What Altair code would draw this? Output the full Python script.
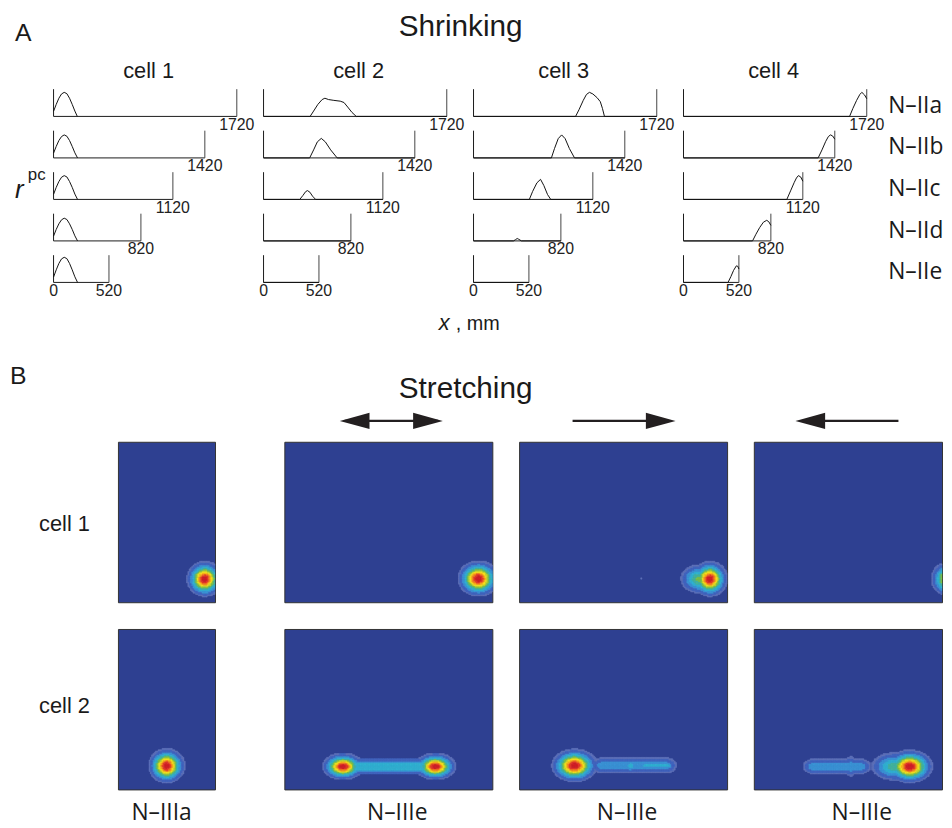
import altair as alt
import numpy as np
import pandas as pd

# ---------------- Part A data (rate maps on shrinking linear tracks) ----------------
track_lengths = [1720, 1420, 1120, 820, 520]
sessions_A = ["N–IIa", "N–IIb", "N–IIc", "N–IId", "N–IIe"]
cells_A = ["cell 1", "cell 2", "cell 3", "cell 4"]

# cell 1
c1_a_x = [0, 25, 50, 75, 100, 125, 150, 175, 200, 223]
c1_a_y = [0.19, 0.45, 0.68, 0.84, 0.90, 0.85, 0.68, 0.45, 0.20, 0.0]
c1_b_x = [0, 25, 50, 75, 100, 125, 150, 175, 200, 225]
c1_b_y = [0.18, 0.43, 0.65, 0.80, 0.86, 0.81, 0.65, 0.43, 0.19, 0.0]
c1_c_x = [0, 25, 50, 75, 100, 125, 150, 175, 200, 225]
c1_c_y = [0.19, 0.45, 0.67, 0.83, 0.89, 0.84, 0.67, 0.45, 0.20, 0.0]
c1_d_x = [0, 25, 50, 75, 100, 125, 150, 175, 200, 225]
c1_d_y = [0.18, 0.43, 0.64, 0.79, 0.85, 0.80, 0.64, 0.43, 0.19, 0.0]
c1_e_x = [0, 25, 50, 75, 100, 125, 150, 175, 200, 225]
c1_e_y = [0.20, 0.47, 0.71, 0.88, 0.94, 0.89, 0.71, 0.47, 0.21, 0.0]
# cell 2
c2_a_x = [0, 437, 470, 510, 550, 576, 610, 660, 720, 755, 790, 830, 870, 1720]
c2_a_y = [0, 0.0, 0.20, 0.45, 0.63, 0.68, 0.63, 0.60, 0.57, 0.52, 0.35, 0.15, 0.0, 0]
c2_b_x = [0, 433, 470, 505, 542, 580, 630, 691, 1420]
c2_b_y = [0, 0.0, 0.30, 0.60, 0.73, 0.60, 0.30, 0.0, 0]
c2_c_x = [0, 340, 370, 395, 412, 435, 460, 489, 1120]
c2_c_y = [0, 0.0, 0.15, 0.29, 0.33, 0.27, 0.12, 0.0, 0]
c2_d_x = [0, 820]
c2_d_y = [0, 0]
c2_e_x = [0, 520]
c2_e_y = [0, 0]
# cell 3
c3_a_x = [0, 958, 990, 1030, 1060, 1088, 1120, 1160, 1190, 1210, 1229, 1720]
c3_a_y = [0, 0.0, 0.25, 0.60, 0.82, 0.90, 0.84, 0.70, 0.55, 0.30, 0.0, 0]
c3_b_x = [0, 731, 760, 795, 827, 860, 900, 948, 1420]
c3_b_y = [0, 0.0, 0.35, 0.72, 0.86, 0.72, 0.35, 0.0, 0]
c3_c_x = [0, 524, 555, 595, 629, 660, 695, 725, 1120]
c3_c_y = [0, 0.0, 0.30, 0.62, 0.75, 0.52, 0.18, 0.0, 0]
c3_d_x = [0, 375, 395, 410, 425, 450, 820]
c3_d_y = [0, 0.0, 0.05, 0.09, 0.06, 0.0, 0]
c3_e_x = [0, 520]
c3_e_y = [0, 0]
# cell 4
c4_a_x = [0, 1559, 1590, 1625, 1655, 1674, 1700, 1720]
c4_a_y = [0, 0.0, 0.30, 0.60, 0.82, 0.90, 0.80, 0.66]
c4_b_x = [0, 1264, 1300, 1335, 1360, 1380, 1400, 1420]
c4_b_y = [0, 0.0, 0.30, 0.62, 0.80, 0.86, 0.82, 0.70]
c4_c_x = [0, 970, 1005, 1040, 1060, 1078, 1100, 1120]
c4_c_y = [0, 0.0, 0.32, 0.64, 0.80, 0.89, 0.84, 0.68]
c4_d_x = [0, 648, 680, 715, 750, 781, 800, 820]
c4_d_y = [0, 0.0, 0.25, 0.50, 0.70, 0.77, 0.72, 0.58]
c4_e_x = [0, 418, 445, 470, 496, 510, 520]
c4_e_y = [0, 0.0, 0.22, 0.45, 0.62, 0.60, 0.50]

curves = [
    [(c1_a_x, c1_a_y), (c1_b_x, c1_b_y), (c1_c_x, c1_c_y), (c1_d_x, c1_d_y), (c1_e_x, c1_e_y)],
    [(c2_a_x, c2_a_y), (c2_b_x, c2_b_y), (c2_c_x, c2_c_y), (c2_d_x, c2_d_y), (c2_e_x, c2_e_y)],
    [(c3_a_x, c3_a_y), (c3_b_x, c3_b_y), (c3_c_x, c3_c_y), (c3_d_x, c3_d_y), (c3_e_x, c3_e_y)],
    [(c4_a_x, c4_a_y), (c4_b_x, c4_b_y), (c4_c_x, c4_c_y), (c4_d_x, c4_d_y), (c4_e_x, c4_e_y)],
]

# ---------------- Part B data (2-D place fields, stretching arena) ----------------
cells_B = ["cell 1", "cell 2"]
sessions_B = ["N–IIIa", "N–IIIe", "N–IIIe", "N–IIIe"]
arena_x_cm = [60, 130, 130, 117.6]   # visible extent of each arena
arena_y_cm = 100
# field components: row, column, x-start, x-end, y, x-spread, y-spread, peak
blob_row = [1, 1, 1, 1, 1, 1, 2, 2, 2, 2, 2, 2, 2, 2, 2, 2, 2, 2]
blob_col = [1, 2, 3, 3, 3, 4, 1, 2, 2, 2, 3, 3, 3, 3, 4, 4, 4, 4]
blob_xa = [53.7, 121.4, 119.3, 112.5, 76.6, 123.0, 30.2, 36.7, 94.5, 45.0, 34.7, 52.0, 69.8, 79.0, 97.5, 88.0, 37.0, 60.5]
blob_xb = [53.7, 121.4, 119.3, 112.5, 76.6, 123.0, 30.2, 36.7, 94.5, 86.0, 34.7, 92.0, 69.8, 93.0, 97.5, 88.0, 67.0, 60.5]
blob_cy = [14.6, 14.8, 14.6, 14.6, 14.6, 14.6, 14.8, 14.4, 14.4, 14.4, 15.0, 15.0, 15.0, 15.0, 14.4, 14.4, 14.4, 14.4]
blob_sx = [4.2, 4.9, 4.2, 5.0, 0.5, 4.6, 4.3, 4.9, 4.9, 3.0, 5.45, 3.5, 2.2, 1.8, 5.45, 6.5, 3.3, 2.2]
blob_sy = [4.2, 4.2, 4.2, 3.9, 0.5, 4.2, 4.1, 3.15, 3.15, 2.4, 3.9, 2.6, 2.2, 1.4, 3.9, 3.9, 2.5, 3.3]
blob_amp = [1.0, 1.0, 1.0, 0.40, 0.05, 1.0, 1.0, 1.0, 1.0, 0.27, 1.0, 0.16, 0.24, 0.24, 1.0, 0.35, 0.16, 0.17]

level_bounds = [0.03, 0.05, 0.11, 0.19, 0.28, 0.37, 0.46, 0.55, 0.64, 0.73, 0.82, 0.92]
level_colors = ["#6073BA", "#4467C0", "#3D95D6", "#34B3D3", "#45B6A0", "#7DC24A",
                "#C5D92E", "#FCE51B", "#FBB51A", "#F47C20", "#E63A29", "#D42127"]
BG_BLUE = "#2E4091"
STEP = 0.8


def field_cells(r, c):
    xmax = arena_x_cm[c - 1]
    xe = np.arange(0, xmax, STEP)
    x1 = np.minimum(xe + STEP, xmax)
    ye = np.arange(0, arena_y_cm, STEP)
    y1 = np.minimum(ye + STEP, arena_y_cm)
    X0, Y0 = np.meshgrid(xe, ye)
    X1, Y1 = np.meshgrid(x1, y1)
    XC, YC = (X0 + X1) / 2, (Y0 + Y1) / 2
    F = np.zeros_like(XC)
    for i in range(len(blob_row)):
        if blob_row[i] == r and blob_col[i] == c:
            dx = np.maximum(0, np.maximum(blob_xa[i] - XC, XC - blob_xb[i]))
            dy = YC - blob_cy[i]
            g = blob_amp[i] * np.exp(-(dx ** 2 / (2 * blob_sx[i] ** 2) + dy ** 2 / (2 * blob_sy[i] ** 2)))
            F = np.maximum(F, g)
    lvl = np.searchsorted(np.array(level_bounds), F, side="right") - 1
    m = lvl >= 0
    return pd.DataFrame({
        "x0": np.round(X0[m], 2), "x1": np.round(X1[m], 2),
        "y0": np.round(Y0[m], 2), "y1": np.round(Y1[m], 2),
        "lvl": lvl[m].astype(int),
    })


# ---------------- helpers ----------------
_dummy = pd.DataFrame({"k": [0]})
SANS = "Liberation Sans"
LABEL_FONT = "Open Sans"
INK = "#1a1a1a"


def label(text, x, y, size, font=SANS, align="left", style="normal", color=INK):
    return alt.Chart(_dummy).mark_text(
        text=text, font=font, fontSize=size, fontStyle=style, align=align,
        baseline="alphabetic", color=color
    ).encode(x=alt.value(x), y=alt.value(y))


def blank(w, h):
    return alt.Chart(_dummy).mark_text(text=" ", fontSize=1).encode(
        x=alt.value(0), y=alt.value(0)).properties(width=w, height=h)


SHIFT = 3.0   # the page draws the chart a few pixels lower than its own origin

# ---------------- Part A panels ----------------
PITCH = 211.67          # px between the starts of neighbouring columns
PRE = 6.0               # px of room left of each track start
MM_PER_PX = 1720 / 185
XDOM = [-PRE * MM_PER_PX, (PITCH - PRE) * MM_PER_PX]
PANEL_H = 27.5
ROW_SPACING = 13.9
LAST_EXTRA = 17.0
ROW_LABEL_Y = [23.7, 23.6, 24.2, 24.8, 24.4]


def panel_A(ci, ri):
    L = track_lengths[ri]
    ymax = PANEL_H / 27.0
    extra = LAST_EXTRA if ri == 4 else 0.0
    ymin = -extra / 27.0
    xs = alt.Scale(domain=XDOM, nice=False, zero=False)
    ys = alt.Scale(domain=[ymin, ymax], nice=False, zero=False)
    cx, cy = curves[ci][ri]
    curve = alt.Chart(pd.DataFrame({"x": cx, "y": cy})).mark_line(
        color="#111111", strokeWidth=1).encode(
        x=alt.X("x:Q", scale=xs, axis=None), y=alt.Y("y:Q", scale=ys, axis=None))
    frame = alt.Chart(pd.DataFrame({"x0": [0, 0], "x1": [L, 0], "y0": [0, 0], "y1": [0, ymax]})).mark_rule(
        color=INK, strokeWidth=1).encode(
        x=alt.X("x0:Q", scale=xs, axis=None), x2="x1:Q",
        y=alt.Y("y0:Q", scale=ys, axis=None), y2="y1:Q")
    end = alt.Chart(pd.DataFrame({"x0": [L], "y0": [0], "y1": [ymax]})).mark_rule(
        color="#444444", strokeWidth=1).encode(
        x=alt.X("x0:Q", scale=xs, axis=None), y=alt.Y("y0:Q", scale=ys, axis=None), y2="y1:Q")
    tick_vals = [0, L] if ri == 4 else [L]
    ticks = alt.Chart(pd.DataFrame({"x": tick_vals, "y": [0] * len(tick_vals),
                                    "t": [str(v) for v in tick_vals]})).mark_text(
        font=SANS, fontSize=16, color="#222222", baseline="top", align="center", dy=0.5).encode(
        x=alt.X("x:Q", scale=xs, axis=None), y=alt.Y("y:Q", scale=ys, axis=None), text="t:N")
    layers = [frame, end, curve, ticks]
    if ci == 3:
        layers.append(label(sessions_A[ri], PITCH - PRE + 7, ROW_LABEL_Y[ri], 23, font=LABEL_FONT))
    return alt.layer(*layers).properties(width=PITCH, height=PANEL_H + extra)


columns_A = []
for ci in range(4):
    col = alt.vconcat(*[panel_A(ci, ri) for ri in range(5)], spacing=ROW_SPACING, bounds="flush")
    columns_A.append(col.resolve_scale(x="independent", y="independent"))

BLOCK_A_H = 5 * PANEL_H + 4 * ROW_SPACING + LAST_EXTRA
left_A = alt.layer(
    label("r", 7, 110, 26, style="italic"),
    label("pc", 20, 92, 17),
).properties(width=45.3 - PRE, height=BLOCK_A_H)

block_A = alt.hconcat(left_A, *columns_A, spacing=0).resolve_scale(x="independent", y="independent")

HEADER_H = 80 - SHIFT
header_A = alt.layer(
    label("A", 7, 32 - SHIFT, 25),
    label("Shrinking", 457, 27 - SHIFT, 30, align="center"),
    label(cells_A[0], 142, 69.3 - SHIFT, 22, align="center"),
    label(cells_A[1], 354, 69.3 - SHIFT, 22, align="center"),
    label(cells_A[2], 561, 69.3 - SHIFT, 22, align="center"),
    label(cells_A[3], 773, 69.3 - SHIFT, 22, align="center"),
).properties(width=936, height=HEADER_H)

# ---------------- middle strip: x-axis title, B heading, arrows ----------------
MID_TOP = 80 + BLOCK_A_H          # in page-minus-margin coordinates
RIGHT_HEAD = "M 1 0 L -1 -0.55 L -1 0.55 Z"
LEFT_HEAD = "M -1 0 L 1 -0.55 L 1 0.55 Z"
ARROW = "#231F20"
AY = 412 - MID_TOP


def shaft(x1, x2):
    return alt.Chart(_dummy).mark_rule(color=ARROW, strokeWidth=2.5).encode(
        x=alt.value(x1), x2=alt.value(x2), y=alt.value(AY))


def head(x, shape):
    return alt.Chart(_dummy).mark_point(
        shape=shape, size=900, filled=True, color=ARROW, opacity=1, strokeWidth=0
    ).encode(x=alt.value(x), y=alt.value(AY))


mid = alt.layer(
    label("x", 435, 320 - MID_TOP, 22, style="italic"),
    label(", mm", 452, 320 - MID_TOP, 20),
    label("B", 2, 375 - MID_TOP, 25),
    label("Stretching", 462, 389 - MID_TOP, 30, align="center"),
    shaft(340, 434), head(350, LEFT_HEAD), head(424, RIGHT_HEAD),
    shaft(570, 664), head(659, RIGHT_HEAD),
    shaft(805, 899), head(810, LEFT_HEAD),
).properties(width=936, height=432 - MID_TOP)

# ---------------- Part B panels ----------------
B_W = [98, 210, 210, 190]
B_H = 162
FOOT_X = [44, 114, 109, 109]


def panel_B(r, c):
    df = field_cells(r, c)
    xscale = alt.Scale(domain=[0, arena_x_cm[c - 1]], nice=False, zero=False)
    yscale = alt.Scale(domain=[0, arena_y_cm], nice=False, zero=False)
    cscale = alt.Scale(domain=list(range(len(level_colors))), range=level_colors)
    heat = alt.Chart(df).mark_rect(strokeWidth=0.5).encode(
        x=alt.X("x0:Q", scale=xscale, axis=None), x2="x1:Q",
        y=alt.Y("y0:Q", scale=yscale, axis=None), y2="y1:Q",
        color=alt.Color("lvl:O", scale=cscale, legend=None),
        stroke=alt.Stroke("lvl:O", scale=cscale, legend=None),
    )
    layers = [heat]
    if r == 2:
        layers.append(label(sessions_B[c - 1], FOOT_X[c - 1], 193, 23, font=LABEL_FONT, align="center"))
    return alt.layer(*layers).properties(
        width=B_W[c - 1], height=B_H,
        view=alt.ViewBackground(fill=BG_BLUE, stroke="#333333", strokeWidth=1),
    )


def row_B(r, label_y):
    left = alt.layer(label(cells_B[r - 1], 57, label_y, 22, align="center")).properties(width=85, height=B_H)
    return alt.hconcat(left, panel_B(r, 1), blank(18, B_H), panel_B(r, 2), panel_B(r, 3), panel_B(r, 4),
                       spacing=25).resolve_scale(x="independent", y="independent")


body_B = alt.vconcat(row_B(1, 90), row_B(2, 85.3), spacing=25).resolve_scale(
    x="independent", y="independent")

chart = alt.vconcat(header_A, block_A, mid, body_B, spacing=0).resolve_scale(
    x="independent", y="independent"
).properties(padding=0, background="white").configure(font=SANS).configure_view(strokeWidth=0)

chart.save("out.html", embed_options={"renderer": "svg", "actions": False})
